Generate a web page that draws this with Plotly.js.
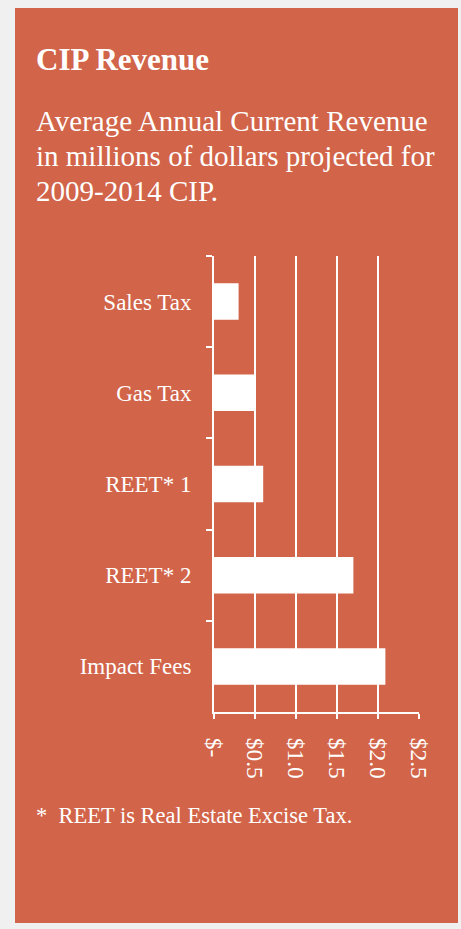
<!DOCTYPE html>
<html>
<head>
<meta charset="utf-8">
<script src="https://cdn.plot.ly/plotly-3.0.1.min.js"></script>
<style>
html,body{margin:0;padding:0;background:#f0f0f0;width:461px;height:929px;overflow:hidden;}
#chart{position:absolute;left:15px;top:8px;width:443px;height:915px;}
</style>
</head>
<body>
<div id="chart"></div>
<script>
const categories = ["Sales Tax", "Gas Tax", "REET* 1", "REET* 2", "Impact Fees"];
const revenue = [0.30, 0.50, 0.60, 1.70, 2.09];
const tickValues = [0, 0.5, 1.0, 1.5, 2.0, 2.5];
const tickLabels = ["$-", "$0.5", "$1.0", "$1.5", "$2.0", "$2.5"];
const titleText = "CIP Revenue";
const subtitleLines = ["Average Annual Current Revenue", "in millions of dollars projected for", "2009-2014 CIP."];
const footnoteText = "*\u00a0\u00a0REET is Real Estate Excise Tax.";

const W = 443, H = 915;
const M = {l: 199, r: 39, t: 248, b: 211};
const pw = W - M.l - M.r, ph = H - M.t - M.b;
const px = x => (x - M.l) / pw;
const py = y => (H - M.b - y) / ph;

const panel = "#d16449";
const serif = "Liberation Serif, Times New Roman, serif";

const trace = {
  type: "bar",
  orientation: "h",
  y: categories,
  x: revenue,
  marker: {color: "#ffffff", line: {width: 0}},
  hoverinfo: "skip"
};

const annotations = [
  {text: "<b>" + titleText + "</b>", xref: "paper", yref: "paper", x: px(19), y: py(32),
   xanchor: "left", yanchor: "top", showarrow: false, align: "left",
   font: {family: serif, size: 31, color: "#ffffff"}},
  {text: footnoteText, xref: "paper", yref: "paper", x: px(19), y: py(793),
   xanchor: "left", yanchor: "top", showarrow: false, align: "left",
   font: {family: serif, size: 22.5, color: "#ffffff"}}
];
subtitleLines.forEach((line, i) => {
  annotations.push({text: line, xref: "paper", yref: "paper", x: px(19), y: py(95 + i * 35),
    xanchor: "left", yanchor: "top", showarrow: false, align: "left",
    font: {family: serif, size: 29, color: "#ffffff"}});
});

const layout = {
  width: W, height: H,
  margin: M,
  paper_bgcolor: panel,
  plot_bgcolor: panel,
  showlegend: false,
  bargap: 0.6,
  font: {family: serif, color: "#ffffff"},
  xaxis: {
    range: [0, 2.5],
    tickvals: tickValues,
    ticktext: tickLabels,
    tickangle: 90,
    ticks: "outside",
    ticklen: 5,
    tickwidth: 2,
    tickcolor: "#ffffff",
    showgrid: true,
    gridcolor: "#ffffff",
    gridwidth: 2,
    zeroline: false,
    showline: true,
    linecolor: "#ffffff",
    linewidth: 2,
    tickfont: {family: serif, size: 23.5, color: "#ffffff"},
    ticklabelstandoff: 14,
    fixedrange: true
  },
  yaxis: {
    autorange: "reversed",
    type: "category",
    tickson: "boundaries",
    ticks: "outside",
    ticklen: 6,
    tickwidth: 2,
    tickcolor: "#ffffff",
    showgrid: false,
    showline: true,
    linecolor: "#ffffff",
    linewidth: 2,
    tickfont: {family: serif, size: 23, color: "#ffffff"},
    ticklabelstandoff: 16,
    fixedrange: true
  },
  annotations: annotations
};

Plotly.newPlot("chart", [trace], layout, {staticPlot: true, displayModeBar: false});
</script>
</body>
</html>
